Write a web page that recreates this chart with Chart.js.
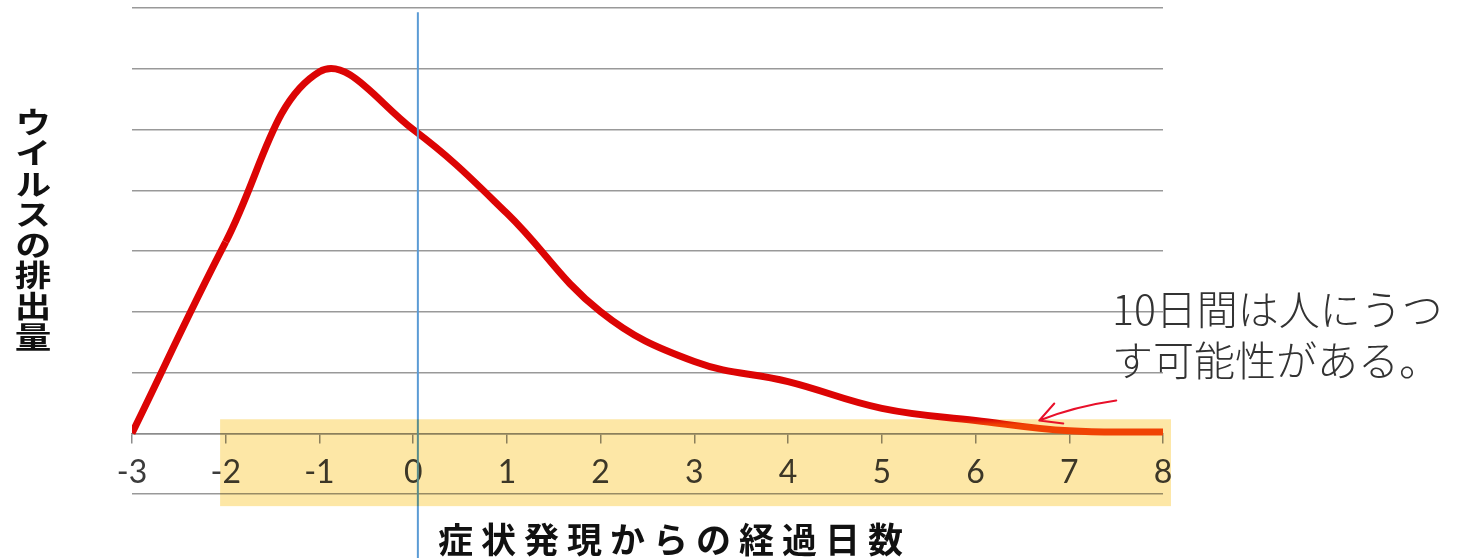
<!DOCTYPE html>
<html lang="ja">
<head>
<meta charset="utf-8">
<script src="https://cdn.jsdelivr.net/npm/chart.js@4/dist/chart.umd.min.js"></script>
<style>
  body { margin: 0; background: #fff; }
  #wrap { position: relative; width: 1463px; height: 558px; overflow: hidden; }
  #yTitle {
    position: absolute; left: 16px; top: 107px;
    writing-mode: vertical-rl;
    font-family: "Noto Sans CJK JP", sans-serif; font-weight: bold;
    font-size: 30px; line-height: 34px; letter-spacing: 0.6px; color: #111;
    transform: scaleX(1.22); transform-origin: 50% 0;
  }
  #xTitle {
    position: absolute; left: 438px; top: 518px;
    font-family: "Noto Sans CJK JP", sans-serif; font-weight: bold;
    font-size: 35px; line-height: 40px; letter-spacing: 8px; color: #111;
    white-space: nowrap;
  }
  #note {
    position: absolute; left: 1112px; top: 282px;
    font-family: "Noto Sans CJK JP", sans-serif; font-weight: 300;
    font-size: 41px; line-height: 51px; color: #333;
    white-space: nowrap;
  }
</style>
</head>
<body>
<div id="wrap">
  <canvas id="chart"></canvas>
  <div id="yTitle">ウイルスの排出量</div>
  <div id="xTitle">症状発現からの経過日数</div>
  <div id="note">10日間は人にうつ<br>す可能性がある。</div>
</div>
<script>
// days since symptom onset
const days = [-3, -2, -1, 0, 1, 2, 3, 4, 5, 6, 7, 8];
// virus shedding (relative)
const shedding = [0, 3.15, 5.95, 5.0, 3.62, 2.0, 1.18, 0.85, 0.41, 0.21, 0.04, 0.02];

// highlighted range and markers
const highlightX = [-2.06, 8.085];
const highlightY = [-1.2, 0.23];
const onsetX = 0.05;
const arrowTip = { x: 6.68, y: 0.21 };

const RED = "#dc0404";
const ORANGE = "#f24a06";

// red curve turns orange where it enters the yellow band
function lineColor(c) {
  const chart = c.chart;
  if (!chart.chartArea) return RED;
  const yTop = chart.scales.y.getPixelForValue(highlightY[1]);
  const g = chart.ctx.createLinearGradient(0, 0, 0, chart.height);
  const s = Math.min(Math.max(yTop / chart.height, 0), 1);
  g.addColorStop(0, RED);
  g.addColorStop(s, RED);
  g.addColorStop(Math.min(s + 0.01, 1), ORANGE);
  g.addColorStop(1, ORANGE);
  return g;
}

const overlays = {
  id: "overlays",
  afterDatasetsDraw(chart) {
    const { ctx, scales } = chart;
    const x = scales.x, y = scales.y;
    // onset line
    ctx.save();
    ctx.strokeStyle = "#5b9bd5";
    ctx.lineWidth = 2;
    ctx.beginPath();
    const bx = x.getPixelForValue(onsetX);
    ctx.moveTo(bx, y.getPixelForValue(6.93));
    ctx.lineTo(bx, chart.height);
    ctx.stroke();
    // yellow band (multiplied over axis, labels and curve)
    ctx.globalCompositeOperation = "multiply";
    ctx.fillStyle = "#fde7a6";
    const x0 = x.getPixelForValue(highlightX[0]);
    const x1 = x.getPixelForValue(highlightX[1]);
    const y0 = y.getPixelForValue(highlightY[1]);
    const y1 = y.getPixelForValue(highlightY[0]);
    ctx.fillRect(x0, y0, x1 - x0, y1 - y0);
    ctx.restore();
  },
  afterDraw(chart) {
    const { ctx, scales } = chart;
    const tx = scales.x.getPixelForValue(arrowTip.x);
    const ty = scales.y.getPixelForValue(arrowTip.y);
    ctx.save();
    ctx.strokeStyle = "#e8102a";
    ctx.lineWidth = 2;
    ctx.lineCap = "round";
    ctx.lineJoin = "round";
    ctx.beginPath();
    ctx.moveTo(tx + 77, ty - 20);
    ctx.quadraticCurveTo(tx + 35, ty - 14, tx, ty);
    ctx.moveTo(tx + 15, ty - 17);
    ctx.lineTo(tx, ty);
    ctx.lineTo(tx + 24, ty + 3);
    ctx.stroke();
    ctx.restore();
  }
};

const ctx = document.getElementById("chart").getContext("2d");

new Chart(ctx, {
  type: "line",
  data: {
    datasets: [
      {
        data: days.map((d, i) => ({ x: d, y: shedding[i] })),
        borderColor: lineColor,
        borderWidth: 7,
        pointRadius: 0,
        tension: 0.4,
        fill: false,
        segment: {
          // first rise lies left of the band, keep it plain red
          borderColor: (s) => (s.p0.parsed.x < highlightX[0] ? RED : undefined),
        },
      },
    ],
  },
  options: {
    responsive: true,
    maintainAspectRatio: false,
    animation: false,
    layout: { padding: { left: 132, right: 300, top: 8, bottom: 64 } },
    plugins: { legend: { display: false }, tooltip: { enabled: false } },
    scales: {
      x: {
        type: "linear",
        min: -3,
        max: 8,
        position: { y: 0 },
        ticks: {
          stepSize: 1,
          color: "#3c3c3c",
          font: { family: "Lato, 'Open Sans', sans-serif", size: 32 },
          padding: 11,
          maxRotation: 0,
        },
        grid: { drawOnChartArea: false, drawTicks: true, tickLength: 9, color: "#8c8c8c", lineWidth: 1.5 },
        border: { display: true, color: "#8c8c8c", width: 1.5 },
      },
      y: {
        min: -1,
        max: 7,
        ticks: { stepSize: 1, display: false },
        grid: { color: "#999", lineWidth: 1.5, drawTicks: false },
        border: { display: false },
      },
    },
  },
  plugins: [overlays],
});
</script>
</body>
</html>
